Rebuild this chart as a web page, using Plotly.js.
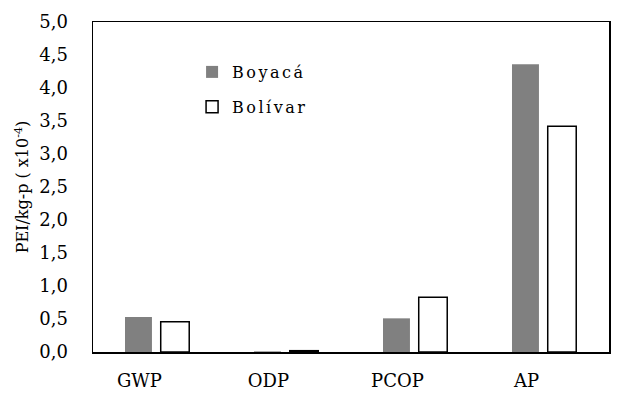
<!DOCTYPE html>
<html>
<head>
<meta charset="utf-8">
<script src="https://cdn.plot.ly/plotly-3.0.1.min.js"></script>
<style>
body{margin:0;background:#fff;}
#chart{width:627px;height:402px;}
#chart .legendtext{letter-spacing:2.5px;}
#chart .legend, #chart .legend *{clip-path:none !important;}
</style>
</head>
<body>
<div id="chart"></div>
<script>
var categories = ["GWP", "ODP", "PCOP", "AP"];
var boyaca = [0.53, 0.01, 0.51, 4.36];
var bolivar = [0.46, 0.02, 0.83, 3.42];
var yTicks = [0, 0.5, 1, 1.5, 2, 2.5, 3, 3.5, 4, 4.5, 5];

var fam = "DejaVu Serif, serif";

var traces = [
  {type: "bar", name: "Boyacá", x: categories, y: boyaca, legendgroup: "a",
   offset: -0.112, width: 0.209,
   marker: {color: "#808080", line: {color: "#808080", width: 0}}},
  {type: "bar", name: "Bolívar", x: categories, y: bolivar, legendgroup: "b",
   offset: 0.165, width: 0.221,
   marker: {color: "#ffffff", line: {color: "#000000", width: 1.5}}}
];

var layout = {
  width: 627, height: 402,
  margin: {l: 93, r: 18, t: 22, b: 50},
  paper_bgcolor: "#fff", plot_bgcolor: "#fff",
  font: {family: fam, size: 16, color: "#000"},
  separators: ",.",
  barmode: "overlay",
  showlegend: true,
  legend: {x: 0.192, y: 0.9, xanchor: "left", yanchor: "top", bgcolor: "rgba(0,0,0,0)",
           traceorder: "grouped",
           font: {family: fam, size: 16, color: "#000"}, tracegroupgap: 11, itemwidth: 30},
  xaxis: {type: "category", range: [-0.36, 3.64], showgrid: false, zeroline: false,
          showline: true, linecolor: "#000", linewidth: 1.5, mirror: true,
          ticks: "", ticklabelstandoff: 12, tickfont: {family: fam, size: 18, color: "#000"}},
  yaxis: {range: [0, 5], tickvals: yTicks, tickformat: ".1f", showgrid: false, zeroline: false,
          showline: true, linecolor: "#000", linewidth: 1.5, mirror: true,
          ticks: "", ticklabelstandoff: 20, tickfont: {family: fam, size: 18, color: "#000"},
          title: {text: "PEI/kg-p ( x10<sup>-4</sup>)", font: {family: fam, size: 16, color: "#000"}, standoff: 6}}
};

Plotly.newPlot("chart", traces, layout, {displayModeBar: false, staticPlot: true});
</script>
</body>
</html>
